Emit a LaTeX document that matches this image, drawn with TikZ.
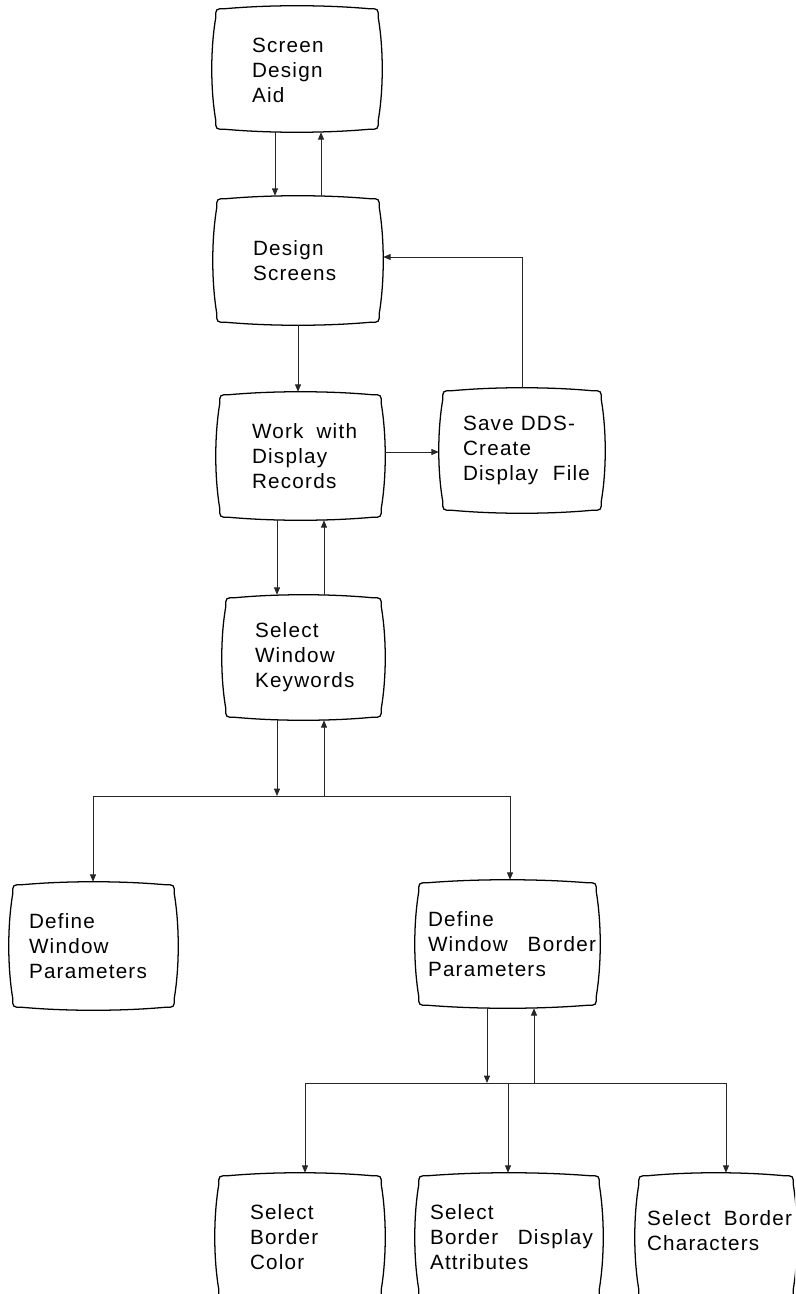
\documentclass[tikz,border=0pt]{standalone}
\usepackage{fontspec}
\setmainfont{Liberation Sans}[LetterSpace=6]
\usetikzlibrary{calc,arrows.meta}

% Outline of a "screen" box: slightly bulging edges with rounded corners
\newcommand\tvframe[1]{%
  \coordinate (#1-tl) at ($(#1.north west)+(4,3)$);
  \coordinate (#1-tr) at ($(#1.north east)+(-4,3)$);
  \coordinate (#1-br) at ($(#1.south east)+(-4,-3)$);
  \coordinate (#1-bl) at ($(#1.south west)+(4,-3)$);
  \draw[frame] ($(#1-tl)+(9,0)$)
    .. controls ($(#1-tl)!1/3!(#1-tr)+(0,-4)$) and ($(#1-tl)!2/3!(#1-tr)+(0,-4)$) .. ($(#1-tr)+(-9,0)$)
    .. controls (#1-tr) .. ($(#1-tr)+(0,9)$)
    .. controls ($(#1-tr)!1/3!(#1-br)+(5.3,0)$) and ($(#1-tr)!2/3!(#1-br)+(5.3,0)$) .. ($(#1-br)+(0,-9)$)
    .. controls (#1-br) .. ($(#1-br)+(-9,0)$)
    .. controls ($(#1-br)!1/3!(#1-bl)+(0,4)$) and ($(#1-br)!2/3!(#1-bl)+(0,4)$) .. ($(#1-bl)+(9,0)$)
    .. controls (#1-bl) .. ($(#1-bl)+(0,-9)$)
    .. controls ($(#1-bl)!1/3!(#1-tl)+(-5.3,0)$) and ($(#1-bl)!2/3!(#1-tl)+(-5.3,0)$) .. ($(#1-tl)+(0,9)$)
    .. controls (#1-tl) .. ($(#1-tl)+(9,0)$) -- cycle;
}

\begin{document}
\begin{tikzpicture}[x=0.75pt, y=-0.75pt,
  tvbox/.style 2 args={shape=rectangle, inner sep=0pt, minimum width=#1*0.75pt, minimum height=#2*0.75pt},
  frame/.style={draw=black, line width=0.95pt, line join=round},
  lbl/.style={font=\fontsize{15.5}{18.75}\selectfont, align=left, inner sep=0pt, anchor=west},
  conn/.style={draw=black!85, line width=0.6pt},
  arr/.style={conn, -{Triangle[length=5.5pt,width=4.5pt]}}]

\useasboundingbox (0,0) rectangle (795,1294);
\clip (0,0) rectangle (795,1294);

% boxes
\node[tvbox={170}{126}] (aid)    at (297,69)     {};
\node[tvbox={170}{129}] (design) at (298,260.5)  {};
\node[tvbox={169}{128}] (work)   at (300.5,456)  {};
\node[tvbox={166}{125}] (save)   at (522,450.5)  {};
\node[tvbox={163}{125}] (selwin) at (303.5,657.5){};
\node[tvbox={169}{128}] (defwin) at (93.5,946)   {};
\node[tvbox={185}{128}] (border) at (507.5,944)  {};
\node[tvbox={170}{128}] (color)  at (300,1237)   {};
\node[tvbox={188}{128}] (attrs)  at (509,1237)   {};
\node[tvbox={162}{128}] (chars)  at (716,1237)   {};

\foreach \n in {aid,design,work,save,selwin,defwin,border,color,attrs,chars}
  {\tvframe{\n}}

% box texts
\node[lbl] (aid-t)    at ($(aid.west)+(40,1)$)    {Screen\\Design\\Aid};
\node[lbl] (design-t) at ($(design.west)+(40,0)$) {Design\\Screens};
\node[lbl] (work-t)   at ($(work.west)+(36,0)$)   {\makebox[78.75pt][s]{Work with}\\Display\\Records};
\node[lbl] (save-t)   at ($(save.west)+(24,0)$)   {Save DDS-\\Create\\\makebox[95.25pt][s]{Display File}};
\node[lbl] (selwin-t) at ($(selwin.west)+(33,0)$) {Select\\Window\\Keywords};
\node[lbl] (defwin-t) at ($(defwin.west)+(20,0)$) {Define\\Window\\Parameters};
\node[lbl] (border-t) at ($(border.west)+(13,0)$) {Define\\\makebox[126pt][s]{Window Border}\\Parameters};
\node[lbl] (color-t)  at ($(color.west)+(35,0)$)  {Select\\Border\\Color};
\node[lbl] (attrs-t)  at ($(attrs.west)+(15,0)$)  {Select\\\makebox[122.25pt][s]{Border Display}\\Attributes};
\node[lbl] (chars-t)  at ($(chars.west)+(12,-6)$) {\makebox[108.75pt][s]{Select Border}\\Characters};

% connector lanes
\coordinate (l275) at (275,0);
\coordinate (l321) at (321,0);
\coordinate (l298) at (298,0);
\coordinate (l277) at (277,0);
\coordinate (l324) at (324,0);
\coordinate (l487) at (487,0);
\coordinate (l534) at (534,0);
\coordinate (l508) at (508,0);
\coordinate (r257) at (0,257);
\coordinate (r452) at (0,452);
\coordinate (busL)  at (93,796);
\coordinate (busR)  at (510,796);
\coordinate (bus2L) at (305,1083);
\coordinate (bus2R) at (726,1083);

% connectors
\draw[arr] (aid.south -| l275) -- (design.north -| l275);
\draw[arr] (design.north -| l321) -- (aid.south -| l321);
\draw[arr] (design.south -| l298) -- (work.north -| l298);
\draw[arr] (save.north) |- (design.east |- r257);
\draw[arr] (work.east |- r452) -- (save.west |- r452);
\draw[arr] (work.south -| l277) -- (selwin.north -| l277);
\draw[arr] (selwin.north -| l324) -- (work.south -| l324);

\draw[conn] (busL) -- (busR);
\draw[arr] (selwin.south -| l277) -- (busL -| l277);
\draw[arr] (busL -| l324) -- (selwin.south -| l324);
\draw[arr] (busL) -- (defwin.north -| busL);
\draw[arr] (busR) -- (border.north -| busR);

\draw[conn] (bus2L) -- (bus2R);
\draw[arr] (border.south -| l487) -- (bus2L -| l487);
\draw[arr] (bus2L -| l534) -- (border.south -| l534);
\draw[arr] (bus2L) -- (color.north -| bus2L);
\draw[arr] (bus2L -| l508) -- (attrs.north -| l508);
\draw[arr] (bus2R) -- (chars.north -| bus2R);
\end{tikzpicture}
\end{document}
